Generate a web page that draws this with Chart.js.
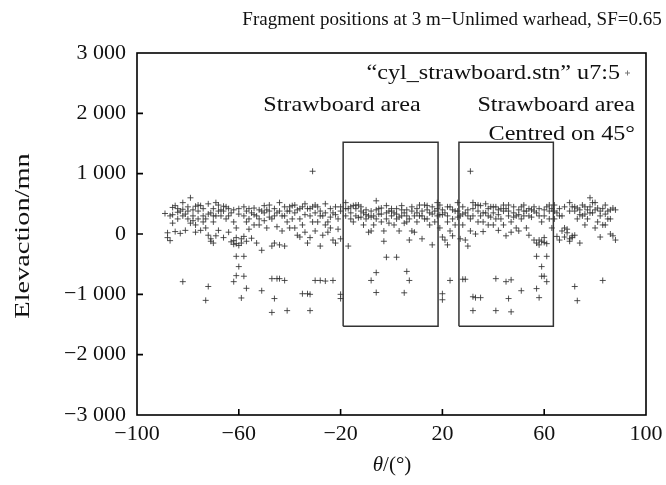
<!DOCTYPE html>
<html>
<head>
<meta charset="utf-8">
<script src="https://cdn.jsdelivr.net/npm/chart.js@4/dist/chart.umd.min.js"></script>
<style>
  html, body { margin: 0; padding: 0; background: #fff; }
  #wrap { width: 666px; height: 485px; }
</style>
</head>
<body>
<div id="wrap"><canvas id="fragChart"></canvas></div>
<script>
// Fragment positions [theta (deg), elevation (mm)]
const bandFarLeft = [
  [-89,340],[-88,20],[-88,-60],[-87,300],[-87,-110],[-86,440],[-86,180],[-85,470],[-85,40],[-84,420],
  [-84,250],[-83,380],[-83,10],[-82,520],[-82,300],[-81,330],[-81,60],[-80,250],[-80,450],[-79,600],
  [-79,180],[-78,220],[-78,400],[-77,150],[-77,460],[-77,30],[-76,380],[-76,250],[-75,470],[-75,60],
  [-74,300],[-74,420],[-73,250],[-73,100],[-72,500],[-72,-20],[-71,350],[-71,-80],[-70,420],[-70,-150],
  [-70,200],[-69,520],[-69,300],[-68,480],[-68,60],[-67,300],[-67,400],[-66,380],[-66,-60],[-65,250],
  [-65,450],[-64,420],[-64,30],[-63,350],[-63,-130],[-62,200],[-62,-110],[-61,100],[-61,-160],[-60,-190],
  [-60,330],[-59,-150],[-61,-60],[-62,-170]
];
const bandMidLeft = [
  [-58,450],[-58,-40],[-57,380],[-57,200],[-56,250],[-56,80],[-55,350],[-55,-70],[-54,430],[-54,150],
  [-53,300],[-53,-150],[-52,150],[-52,400],[-51,380],[-51,-270],[-50,220],[-50,470],[-49,400],[-49,100],
  [-48,480],[-48,280],[-47,-200],[-47,250],[-46,-150],[-46,420],[-45,350],[-45,120],[-44,520],[-44,-180],
  [-43,300],[-43,50],[-42,450],[-42,-200],[-41,200],[-41,380],[-40,380],[-40,100],[-39,470],[-39,250],
  [-38,350],[-38,100],[-37,400],[-37,-20],[-36,250],[-36,-50],[-35,150],[-35,450],[-34,500],[-34,30],
  [-33,420],[-33,-150],[-32,300],[-32,-60],[-31,200],[-31,450],[-30,350],[-30,50],[-29,450],[-29,200],
  [-28,380],[-28,-200],[-27,300],[-27,-20],[-26,500],[-26,150],[-25,200],[-25,30],[-24,100],[-24,420],
  [-23,350],[-23,-100],[-22,450],[-22,-150],[-21,250],[-21,80],[-20,-80],[-20,380]
];
const bandCentre = [
  [-18,520],[-18,300],[-17,420],[-17,-200],[-16,450],[-16,250],[-15,470],[-15,200],[-14,300],[-14,420],
  [-13,270],[-13,480],[-12,280],[-12,380],[-11,350],[-11,150],[-10,250],[-10,400],[-9,30],[-9,300],
  [-8,50],[-8,380],[-7,300],[-7,150],[-6,550],[-6,250],[-5,420],[-5,330],[-4,430],[-4,200],
  [-3,50],[-3,-120],[-2,350],[-2,250],[-1,380],[-1,180],[0,300],[0,420],[1,350],[1,150],
  [2,420],[2,250],[3,280],[3,50],[4,470],[4,300],[5,350],[5,180],[6,200],[6,400],
  [7,250],[7,-100],[8,50],[8,380],[9,30],[9,300],[10,420],[10,200],[11,300],[11,480],
  [12,380],[12,-80],[13,480],[13,250],[14,250],[14,400],[15,350],[15,150],[16,450],[16,-180],
  [17,200],[17,380],[18,520],[18,300]
];
const bandMidRight = [
  [19,480],[19,100],[19,320],[20,400],[20,-50],[21,350],[21,-100],[22,300],[22,-180],[22,200],
  [23,450],[23,50],[24,250],[24,-30],[25,150],[25,380],[26,520],[26,280],[27,300],[27,-80],
  [28,450],[28,150],[29,-100],[29,350],[30,-200],[30,400],[31,250],[31,50],[32,520],[32,300],
  [33,480],[33,0],[34,380],[34,200],[35,300],[35,470],[36,200],[36,40],[37,350],[37,500],
  [38,420],[38,150],[39,280],[39,450],[40,150],[40,350],[41,450],[41,250],[42,320],[42,60],
  [43,250],[43,420],[44,380],[44,150],[45,420],[45,-30],[46,300],[46,480],[47,200],[47,30],
  [48,350],[48,450],[49,100],[49,300],[50,50],[50,400],[51,250],[51,450],[52,480],[52,300],
  [53,380],[53,100],[54,-20],[54,420],[55,400],[55,280],[56,-100],[56,450],[57,-150],[57,350],
  [58,-180],[58,420],[59,-120],[59,200],[60,300],[60,-60],[61,450],[61,-160],[62,250],[62,380],
  [63,100],[63,420]
];
const bandFarRight = [
  [64,480],[64,250],[65,350],[65,-40],[66,420],[66,-100],[67,300],[67,50],[68,100],[68,-50],
  [69,20],[69,80],[70,-80],[70,520],[71,450],[71,-30],[72,380],[72,-20],[73,250],[73,430],
  [74,-150],[74,320],[75,300],[75,480],[76,450],[76,150],[77,400],[77,250],[78,600],[78,350],
  [79,350],[79,520],[80,520],[80,100],[81,200],[81,430],[82,300],[82,-50],[83,420],[83,150],
  [84,480],[84,150],[85,380],[85,250],[86,250],[86,0],[87,-30],[87,430],[88,400],[88,-100]
];
const bandDense = [
  [-86,320],[-84,360],[-82,410],[-80,380],[-78,300],[-76,480],[-74,200],[-72,330],[-70,300],[-68,380],
  [-66,460],[-64,300],[-62,400],[-60,420],[-58,300],[-56,420],[-54,320],[-52,250],[-50,350],[-48,380],
  [-46,300],[-44,380],[-42,300],[-40,450],[-38,480],[-36,420],[-34,320],[-32,420],[-30,480],[-28,300],
  [-26,350],[-24,280],[-22,320],[-20,450],[-18,420],[-16,350],[-14,480],[-12,450],[-10,320],[-8,280],
  [-6,400],[-4,330],[-2,470],[0,380],[2,330],[4,400],[6,300],[8,450],[10,350],[12,300],
  [14,470],[16,330],[18,420],[20,320],[22,450],[24,400],[26,380],[28,330],[30,300],[32,420],
  [34,480],[36,350],[38,300],[40,450],[42,400],[44,480],[46,380],[48,280],[50,320],[52,380],
  [54,300],[56,380],[58,300],[60,400],[62,480],[64,380],[66,300],[68,450],[70,380],[72,450],
  [74,400],[76,330],[78,450],[80,400],[82,380],[84,330],[86,400],[-59,-80],[-57,-120],[58,-100],
  [60,-140],[70,-120],[71,-60],[-71,-120],[-69,-30]
];
const lowerScatter = [
  [-82,-790],[-72,-870],[-73,-1100],[-61,-370],[-58,-370],[-60,-540],[-61,-690],[-58,-700],[-62,-790],[-57,-900],
  [-51,-940],[-59,-1060],[-47,-740],[-45,-740],[-46,-1070],[-47,-1300],[-44,-740],[-42,-770],[-30,-770],[-28,-770],
  [-26,-780],[-23,-770],[-35,-990],[-33,-990],[-32,-1000],[-20,-1000],[-20,-1070],[-41,-1270],[-32,-1270],[-2,-385],
  [2,-385],[-6,-640],[-8,-770],[-6,-970],[6,-620],[7,-770],[5,-975],[20,-990],[20,-1090],[23,-770],
  [28,-750],[29,-750],[32,-1040],[33,-1055],[35,-1055],[32,-1270],[41,-1270],[41,-740],[45,-790],[47,-760],
  [46,-1070],[47,-1290],[57,-370],[61,-370],[59,-540],[59,-700],[60,-700],[61,-790],[57,-905],[51,-940],
  [58,-1055],[83,-770],[72,-870],[73,-1105]
];
const highPoints = [[-31,1040],[31,1040]];

// Strawboard rectangles (theta, elevation corners)
const boxCentreX = [-19, 18.3, 18.3, -19, -19];
const boxRightX = [26.5, 63.6, 63.6, 26.5, 26.5];
const boxY = [-1530, -1530, 1520, 1520, -1530];

const xTickValues = [-100, -60, -20, 20, 60, 100];
const yTickValues = [-3000, -2000, -1000, 0, 1000, 2000, 3000];

const SERIF = '"Liberation Serif", "DejaVu Serif", serif';

function fmtThousands(v) {
  const s = String(Math.abs(v)).replace(/\B(?=(\d{3})+(?!\d))/g, ' ');
  return (v < 0 ? '\u2212' : '') + s;
}

const fragments = [].concat(bandFarLeft, bandMidLeft, bandCentre, bandMidRight, bandFarRight, bandDense, lowerScatter, highPoints)
  .map(function (p) { return { x: p[0], y: p[1] }; });

function boxData(xs) {
  return xs.map(function (x, i) { return { x: x, y: boxY[i] }; });
}

// text a bit wider than plain Times, like the scanned figure
function wideText(ctx, txt, x, y, align, size, sx) {
  ctx.save();
  ctx.font = size + 'px ' + SERIF;
  ctx.textAlign = align;
  ctx.translate(x, y);
  ctx.scale(sx, 1);
  ctx.fillText(txt, 0, 0);
  ctx.restore();
}

// Frame, inward ticks and all the annotations
const decorations = {
  id: 'decorations',
  afterDraw(chart) {
    const ctx = chart.ctx;
    const a = chart.chartArea;
    const xs = chart.scales.x, ys = chart.scales.y;
    ctx.save();
    ctx.strokeStyle = '#000';
    ctx.lineWidth = 1.6;
    ctx.strokeRect(a.left, a.top, a.right - a.left, a.bottom - a.top);
    ctx.beginPath();
    xTickValues.slice(1, -1).forEach(function (v) {
      const px = xs.getPixelForValue(v);
      ctx.moveTo(px, a.bottom); ctx.lineTo(px, a.bottom - 6);
    });
    yTickValues.slice(1, -1).forEach(function (v) {
      const py = ys.getPixelForValue(v);
      ctx.moveTo(a.left, py); ctx.lineTo(a.left + 6, py);
    });
    ctx.stroke();

    ctx.fillStyle = '#111';
    ctx.textBaseline = 'alphabetic';
    wideText(ctx, 'Fragment positions at 3 m\u2212Unlimed warhead, SF=0.65', 452, 25, 'center', 19, 1);

    // legend
    wideText(ctx, '\u201Ccyl_strawboard.stn\u201D u7:5', 620, 79, 'right', 21, 1.15);
    ctx.strokeStyle = '#777';
    ctx.lineWidth = 1;
    ctx.beginPath();
    ctx.moveTo(625, 73); ctx.lineTo(630, 73);
    ctx.moveTo(627.5, 70.5); ctx.lineTo(627.5, 75.5);
    ctx.stroke();

    wideText(ctx, 'Strawboard area', 342, 111, 'center', 21, 1.15);
    wideText(ctx, 'Strawboard area', 635, 111, 'right', 21, 1.15);
    wideText(ctx, 'Centred on 45\u00B0', 635, 140, 'right', 21, 1.15);

    // y title
    ctx.save();
    ctx.translate(29, 236);
    ctx.rotate(-Math.PI / 2);
    wideText(ctx, 'Elevaction/mn', 0, 0, 'center', 21, 1.35);
    ctx.restore();

    // x title with italic theta
    ctx.textBaseline = 'middle';
    ctx.font = 'italic 21px ' + SERIF;
    const th = '\u03B8';
    const rest = '/(\u00B0)';
    const w1 = ctx.measureText(th).width;
    ctx.font = '21px ' + SERIF;
    const w2 = ctx.measureText(rest).width;
    const x0 = 392 - (w1 + w2) / 2;
    ctx.textAlign = 'left';
    ctx.font = 'italic 21px ' + SERIF;
    ctx.fillText(th, x0, 465);
    ctx.font = '21px ' + SERIF;
    ctx.fillText(rest, x0 + w1, 465);
    ctx.restore();
  }
};

new Chart(document.getElementById('fragChart'), {
  type: 'scatter',
  data: {
    datasets: [
      {
        label: 'cyl_strawboard.stn u7:5',
        data: fragments,
        pointStyle: 'cross',
        pointRadius: 3,
        borderColor: 'rgba(50,50,50,0.85)',
        borderWidth: 1,
        pointHoverRadius: 3
      },
      {
        label: 'box-centre',
        type: 'line',
        data: boxData(boxCentreX),
        showLine: true,
        pointRadius: 0,
        borderColor: '#333',
        borderWidth: 1.5,
        tension: 0,
        fill: false
      },
      {
        label: 'box-right',
        type: 'line',
        data: boxData(boxRightX),
        showLine: true,
        pointRadius: 0,
        borderColor: '#333',
        borderWidth: 1.5,
        tension: 0,
        fill: false
      }
    ]
  },
  options: {
    responsive: true,
    maintainAspectRatio: false,
    animation: false,
    layout: { padding: { top: 53, right: 20, left: 0, bottom: 0 } },
    plugins: {
      legend: { display: false },
      tooltip: { enabled: false }
    },
    scales: {
      x: {
        type: 'linear',
        min: -100,
        max: 100,
        afterBuildTicks: function (s) { s.ticks = xTickValues.map(function (v) { return { value: v }; }); },
        afterFit: function (s) { s.height = 70; s.paddingRight = 0; s.paddingLeft = 0; },
        grid: { display: false, drawTicks: false },
        border: { display: false },
        ticks: {
          padding: 6,
          color: '#111',
          font: { family: SERIF, size: 22 },
          maxRotation: 0,
          callback: function (v) { return fmtThousands(v); }
        }
      },
      y: {
        type: 'linear',
        min: -3000,
        max: 3000,
        afterBuildTicks: function (s) { s.ticks = yTickValues.map(function (v) { return { value: v }; }); },
        afterFit: function (s) { s.width = 137; },
        grid: { display: false, drawTicks: false },
        border: { display: false },
        ticks: {
          padding: 11,
          color: '#111',
          font: { family: SERIF, size: 22 },
          callback: function (v) { return fmtThousands(v); }
        }
      }
    }
  },
  plugins: [decorations]
});
</script>
</body>
</html>
